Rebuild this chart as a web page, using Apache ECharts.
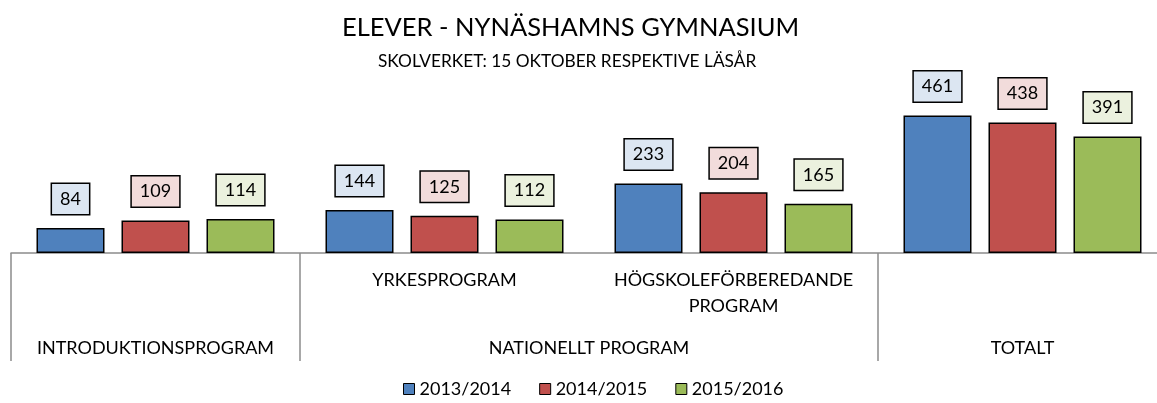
<!DOCTYPE html>
<html>
<head>
<meta charset="utf-8">
<script src="https://cdn.jsdelivr.net/npm/echarts@6/dist/echarts.min.js"></script>
<style>
  html, body { margin: 0; padding: 0; background: #fff; }
  #chart { width: 1157px; height: 403px; }
</style>
</head>
<body>
<div id="chart"></div>
<script>
// grupper (nivå 1) och huvudgrupper (nivå 2)
const groups = ['INTRODUKTIONSPROGRAM', 'YRKESPROGRAM', 'HÖGSKOLEFÖRBEREDANDE PROGRAM', 'TOTALT']
const subLabels = ['', 'YRKESPROGRAM', 'HÖGSKOLEFÖRBEREDANDE\nPROGRAM', '']
const mainLabels = ['INTRODUKTIONSPROGRAM', 'NATIONELLT PROGRAM', 'TOTALT']
const mainLabelAt = [0.5, 2, 3.5]
const separatorsAt = [0, 1, 3]

const years = ['2013/2014', '2014/2015', '2015/2016']
const v2013 = [84, 144, 233, 461]
const v2014 = [109, 125, 204, 438]
const v2015 = [114, 112, 165, 391]

const colors = ['#4f81bd', '#c0504d', '#9bbb59']
const labelBg = ['#dce6f2', '#f2dcdb', '#ebf1de']
const font = 'Lato'

const chart = echarts.init(document.getElementById('chart'))

function makeSeries(name, data, i) {
  return {
    name: name,
    type: 'bar',
    data: data,
    barWidth: 68,
    barGap: '25%',
    itemStyle: { color: colors[i], borderColor: '#000', borderWidth: 1.5 },
    label: {
      show: true,
      position: 'top',
      distance: 14,
      fontFamily: font,
      fontSize: 18,
      lineHeight: 22,
      color: '#000',
      backgroundColor: labelBg[i],
      borderColor: '#000',
      borderWidth: 1.5,
      padding: [4, 8]
    }
  }
}

chart.setOption({
  animation: false,
  color: colors,
  title: [
    {
      text: 'ELEVER - NYNÄSHAMNS GYMNASIUM',
      left: 337,
      top: 10,
      textStyle: { fontFamily: font, fontSize: 25.5, fontWeight: 'normal', color: '#000' }
    },
    {
      text: 'SKOLVERKET: 15 OKTOBER RESPEKTIVE LÄSÅR',
      left: 373,
      top: 48,
      textStyle: { fontFamily: font, fontSize: 17.3, fontWeight: 'normal', color: '#000' }
    }
  ],
  legend: {
    data: years,
    bottom: 0,
    left: 398,
    icon: 'rect',
    itemWidth: 11,
    itemHeight: 11,
    itemGap: 28,
    itemStyle: { borderColor: '#000', borderWidth: 1 },
    textStyle: { fontFamily: font, fontSize: 18, color: '#000' }
  },
  grid: { left: 11, top: 104, width: 1156, height: 149, outerBoundsMode: 'none' },
  xAxis: [
    {
      type: 'category',
      data: groups,
      axisLine: { lineStyle: { color: '#8c8c8c', width: 1.5 } },
      axisTick: { show: false },
      axisLabel: {
        margin: 14,
        fontFamily: font,
        fontSize: 18,
        lineHeight: 26,
        color: '#000',
        interval: 0,
        formatter: (v, i) => subLabels[i]
      }
    },
    {
      type: 'value',
      position: 'bottom',
      min: 0,
      max: 4,
      axisLine: { show: false },
      splitLine: { show: false },
      axisTick: {
        show: true,
        length: 108,
        customValues: separatorsAt,
        lineStyle: { color: '#8c8c8c', width: 1.5 }
      },
      axisLabel: {
        margin: 82,
        fontFamily: font,
        fontSize: 18,
        lineHeight: 26,
        color: '#000',
        customValues: mainLabelAt,
        formatter: v => mainLabels[mainLabelAt.indexOf(v)]
      }
    }
  ],
  yAxis: { type: 'value', min: 0, max: 500, show: false },
  series: [
    makeSeries(years[0], v2013, 0),
    makeSeries(years[1], v2014, 1),
    makeSeries(years[2], v2015, 2)
  ]
})
</script>
</body>
</html>
